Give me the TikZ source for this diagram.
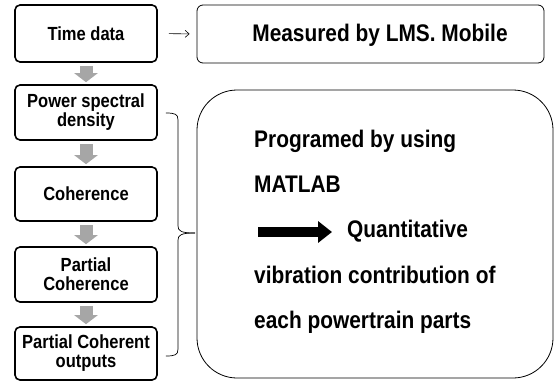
\documentclass[tikz,border=0pt]{standalone}
\usepackage{fontspec}
\setmainfont{Liberation Sans}[FakeStretch=0.87]
\usetikzlibrary{arrows.meta}
\begin{document}
\begin{tikzpicture}[x=1pt,y=-1pt,
  stepbox/.style={draw,line width=1.6pt,rounded corners=5pt,minimum width=142pt,align=center,inner sep=0pt,
    font=\bfseries\fontsize{19}{19}\selectfont},
  thinbox/.style={draw,line width=0.8pt},
  bigtext/.style={anchor=base west,inner sep=0pt,font=\bfseries\fontsize{24}{24}\selectfont},
  flow/.style={-{Triangle[length=9pt,width=23pt]},line width=13pt,draw=black!35,shorten <=3pt,shorten >=2pt}]
\useasboundingbox (0,0) rectangle (556,383);
% left column
\node[stepbox,minimum height=57pt] (t1) at (86,33.5) {Time data};
\node[stepbox,minimum height=55pt] (t2) at (86,112.5) {Power spectral\\density};
\node[stepbox,minimum height=54pt] (t3) at (86,194) {Coherence};
\node[stepbox,minimum height=55pt] (t4) at (86,274.5) {Partial\\Coherence};
\node[stepbox,minimum height=53pt] (t5) at (86,353.5) {Partial Coherent\\outputs};
\draw[flow] (t1.south) -- (t2.north);
\draw[flow] (t2.south) -- (t3.north);
\draw[flow] (t3.south) -- (t4.north);
\draw[flow] (t4.south) -- (t5.north);
% measured box
\node[thinbox,rounded corners=6pt,minimum width=347pt,minimum height=58pt] (m) at (370.5,34) {};
\node[inner sep=0pt,font=\bfseries\fontsize{24}{24}\selectfont] (mt) at (380,35) {Measured by LMS. Mobile};
\draw[-{Straight Barb[length=4pt,width=7pt]},line width=0.6pt,shorten <=11pt,shorten >=7pt] (t1.east) -- (m.west);
% big box
\node[thinbox,rounded corners=40pt,minimum width=356pt,minimum height=288pt] (big) at (375,234) {};
\node[bigtext] (l1) at (254,147) {Programed by using};
\node[bigtext] (l2) at (254,192) {MATLAB};
\node[bigtext] (l3) at (347,237.5) {Quantitative};
\node[bigtext] (l4) at (254,283) {vibration contribution of};
\node[bigtext] (l5) at (254,328) {each powertrain parts};
\coordinate (a0) at (258,232);
\coordinate (a1) at (331,232);
\draw[line width=10pt,-{Triangle[length=14pt,width=21pt]},shorten >=-1pt] (a0) -- (a1);
% bracket
\coordinate (b1) at ([xshift=8pt]t2.east |- 0,113);
\coordinate (b2) at ([xshift=8pt]t5.east |- 0,356);
\coordinate (bm) at (195,233);
\draw[line width=0.7pt] (b1) .. controls (175,113) and (178,114) .. (178,120) -- (178,226)
  .. controls (178,231) and (181,233) .. (bm);
\draw[line width=0.7pt] (bm) .. controls (181,233) and (178,235) .. (178,240) -- (178,349)
  .. controls (178,355) and (175,356) .. (b2);
\end{tikzpicture}
\end{document}
